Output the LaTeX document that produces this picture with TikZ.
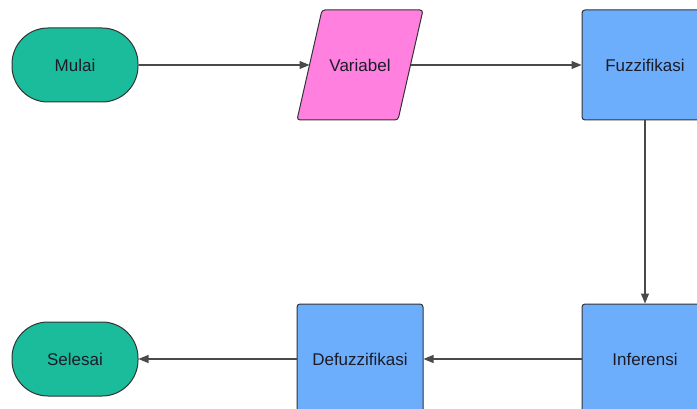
\documentclass[tikz,border=0pt]{standalone}
\usepackage{fontspec}
\setmainfont{Liberation Sans}
\usetikzlibrary{arrows.meta}

\definecolor{termfill}{HTML}{1ABC9C}
\definecolor{iofill}{HTML}{FF80DF}
\definecolor{procfill}{HTML}{6DAEFC}
\definecolor{edgeline}{HTML}{333333}
\definecolor{flowline}{HTML}{4A4A4A}
\definecolor{labeltext}{HTML}{1C1C28}

\tikzset{
  base/.style={draw=edgeline, line width=1pt, text=labeltext,
    font=\fontsize{17}{20}\selectfont, inner sep=0pt},
  terminal/.style={base, fill=termfill, rectangle, rounded corners=36pt,
    minimum width=126pt, minimum height=74pt},
  inputshape/.style={draw=edgeline, line width=1pt, fill=iofill,
    rounded corners=3pt},
  inputlabel/.style={text=labeltext, font=\fontsize{17}{20}\selectfont,
    inner sep=0pt},
  process/.style={base, fill=procfill, rectangle, rounded corners=3pt,
    minimum width=126pt, minimum height=110pt},
  flow/.style={draw=flowline, line width=1.1pt,
    -{Triangle[length=10pt,width=8pt]}}
}

\begin{document}
\begin{tikzpicture}[x=1pt,y=-1pt]
  \useasboundingbox (0,0) rectangle (697,409);
  \fill[white] (0,0) rectangle (697,409);

  % top row
  \node[terminal] (mulai) at (75,65) {Mulai};
  \draw[inputshape] (297,120) -- (398,120) -- (423,10) -- (322,10) -- cycle;
  \node[inputlabel] (variabel) at (360,65) {Variabel};
  \coordinate (varin) at (309.5,65);
  \coordinate (varout) at (410.5,65);
  \node[process] (fuzz) at (645,65) {Fuzzifikasi};

  % bottom row
  \node[process] (inferensi) at (645,359) {Inferensi};
  \node[process] (defuzz) at (360,359) {Defuzzifikasi};
  \node[terminal] (selesai) at (75,359) {Selesai};

  % flow
  \draw[flow] (mulai.east) -- (varin);
  \draw[flow] (varout) -- (fuzz.west);
  \draw[flow] (fuzz.south) -- (inferensi.north);
  \draw[flow] (inferensi.west) -- (defuzz.east);
  \draw[flow] (defuzz.west) -- (selesai.east);
\end{tikzpicture}
\end{document}
